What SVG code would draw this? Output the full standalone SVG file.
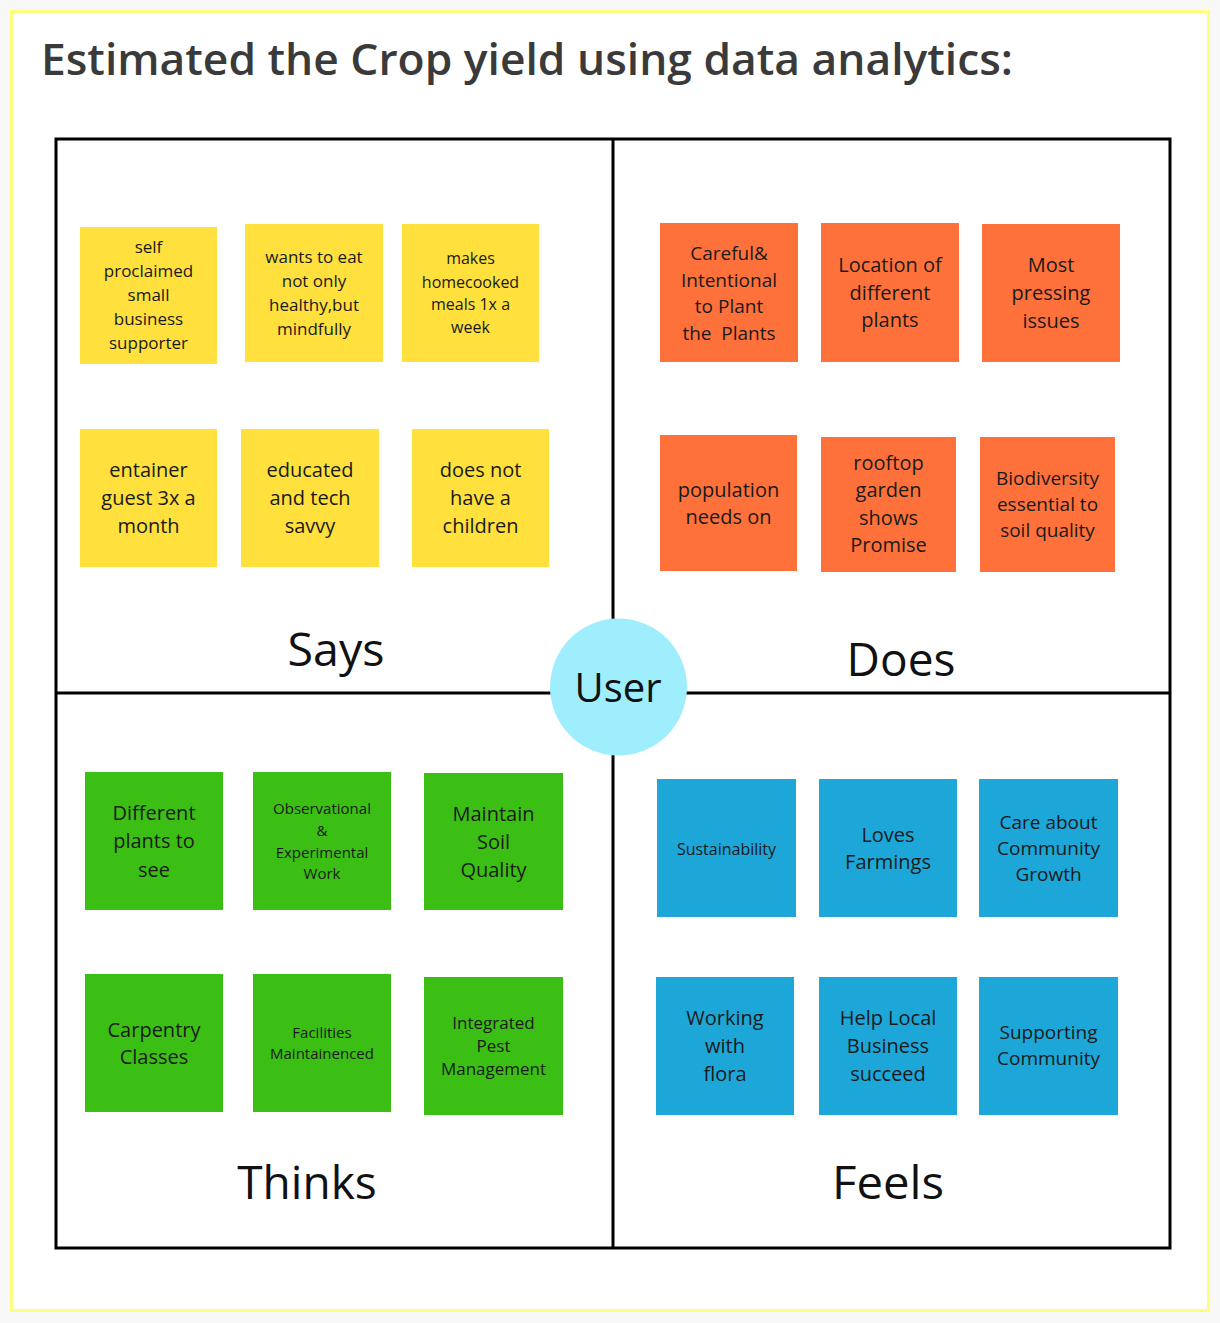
<svg xmlns="http://www.w3.org/2000/svg" width="1220" height="1323" viewBox="0 0 1220 1323">
<style>
.t{font-family:"Open Sans","Liberation Sans",sans-serif;fill:#1a1a1a;text-anchor:middle}
.y{fill:#ffe03d}
.o{fill:#ff713a}
.g{fill:#3bbf14}
.b{fill:#1ca7d8}
.lab{font-family:"Open Sans","Liberation Sans",sans-serif;font-size:46px;fill:#111;text-anchor:middle}
.s15{font-size:15px}.s16{font-size:16px}.s17{font-size:17px}.s19{font-size:19px}.s20{font-size:20px}
</style>
<rect x="0" y="0" width="1220" height="1323" fill="#f8f8f8"/>
<rect x="11.5" y="11.5" width="1197" height="1299" fill="#ffffff" stroke="#fdfd7e" stroke-width="3"/>
<text x="41" y="75" font-family="Open Sans, Liberation Sans, sans-serif" font-weight="600" font-size="44" fill="#3a3a3a" textLength="972" lengthAdjust="spacingAndGlyphs">Estimated the Crop yield using data analytics:</text>

<g id="connectors" stroke="#000" stroke-width="3" fill="none">
<rect x="56" y="139" width="1114" height="1109"/>
<line x1="613" y1="139" x2="613" y2="1248"/>
<line x1="56" y1="693" x2="1170" y2="693"/>
</g>

<g id="user">
<circle cx="618.5" cy="687" r="68.5" fill="#9feefd"/>
<text class="lab" x="618" y="702" style="font-size:40px">User</text>
</g>

<g id="label-says"><text class="lab" x="336" y="666" textLength="97" lengthAdjust="spacingAndGlyphs">Says</text></g>
<g id="label-does"><text class="lab" x="901" y="676">Does</text></g>
<g id="label-thinks"><text class="lab" x="307" y="1199">Thinks</text></g>
<g id="label-feels"><text class="lab" x="888" y="1199" textLength="112" lengthAdjust="spacingAndGlyphs">Feels</text></g>

<!-- Says -->
<g id="says1"><rect class="y" x="80" y="227" width="137" height="137"/>
<text class="t s17" x="148.5"><tspan x="148.5" y="253">self</tspan><tspan x="148.5" y="277">proclaimed</tspan><tspan x="148.5" y="301">small</tspan><tspan x="148.5" y="325">business</tspan><tspan x="148.5" y="349">supporter</tspan></text></g>
<g id="says2"><rect class="y" x="245" y="224" width="138" height="138"/>
<text class="t s17"><tspan x="314" y="263">wants to eat</tspan><tspan x="314" y="287">not only</tspan><tspan x="314" y="311">healthy,but</tspan><tspan x="314" y="335">mindfully</tspan></text></g>
<g id="says3"><rect class="y" x="402" y="224" width="137" height="138"/>
<text class="t s16"><tspan x="470.5" y="264">makes</tspan><tspan x="470.5" y="288">homecooked</tspan><tspan x="470.5" y="310">meals 1x a</tspan><tspan x="470.5" y="333">week</tspan></text></g>
<g id="says4"><rect class="y" x="80" y="429" width="137" height="138"/>
<text class="t s20"><tspan x="148.5" y="477">entainer</tspan><tspan x="148.5" y="505">guest 3x a</tspan><tspan x="148.5" y="533">month</tspan></text></g>
<g id="says5"><rect class="y" x="241" y="429" width="138" height="138"/>
<text class="t s20"><tspan x="310" y="477">educated</tspan><tspan x="310" y="505">and tech</tspan><tspan x="310" y="533">savvy</tspan></text></g>
<g id="says6"><rect class="y" x="412" y="429" width="137" height="138"/>
<text class="t s20"><tspan x="480.5" y="477">does not</tspan><tspan x="480.5" y="505">have a</tspan><tspan x="480.5" y="533">children</tspan></text></g>

<!-- Does -->
<g id="does1"><rect class="o" x="660" y="223" width="138" height="139"/>
<text class="t s19"><tspan x="729" y="260">Careful&amp;</tspan><tspan x="729" y="287">Intentional</tspan><tspan x="729" y="313">to Plant</tspan><tspan x="729" y="340" xml:space="preserve">the  Plants</tspan></text></g>
<g id="does2"><rect class="o" x="821" y="223" width="138" height="139"/>
<text class="t s20"><tspan x="890" y="272">Location of</tspan><tspan x="890" y="300">different</tspan><tspan x="890" y="327">plants</tspan></text></g>
<g id="does3"><rect class="o" x="982" y="224" width="138" height="138"/>
<text class="t s20"><tspan x="1051" y="272">Most</tspan><tspan x="1051" y="300">pressing</tspan><tspan x="1051" y="328">issues</tspan></text></g>
<g id="does4"><rect class="o" x="660" y="435" width="137" height="136"/>
<text class="t s20"><tspan x="728.5" y="497">population</tspan><tspan x="728.5" y="524">needs on</tspan></text></g>
<g id="does5"><rect class="o" x="821" y="437" width="135" height="135"/>
<text class="t s20"><tspan x="888.5" y="470">rooftop</tspan><tspan x="888.5" y="497">garden</tspan><tspan x="888.5" y="525">shows</tspan><tspan x="888.5" y="552">Promise</tspan></text></g>
<g id="does6"><rect class="o" x="980" y="437" width="135" height="135"/>
<text class="t s19"><tspan x="1047.5" y="485">Biodiversity</tspan><tspan x="1047.5" y="511">essential to</tspan><tspan x="1047.5" y="537">soil quality</tspan></text></g>

<!-- Thinks -->
<g id="thinks1"><rect class="g" x="85" y="772" width="138" height="138"/>
<text class="t s20"><tspan x="154" y="820">Different</tspan><tspan x="154" y="848">plants to</tspan><tspan x="154" y="877">see</tspan></text></g>
<g id="thinks2"><rect class="g" x="253" y="772" width="138" height="138"/>
<text class="t s15"><tspan x="322" y="814">Observational</tspan><tspan x="322" y="836">&amp;</tspan><tspan x="322" y="858">Experimental</tspan><tspan x="322" y="879">Work</tspan></text></g>
<g id="thinks3"><rect class="g" x="424" y="773" width="139" height="137"/>
<text class="t s20"><tspan x="493.5" y="821">Maintain</tspan><tspan x="493.5" y="849">Soil</tspan><tspan x="493.5" y="877">Quality</tspan></text></g>
<g id="thinks4"><rect class="g" x="85" y="974" width="138" height="138"/>
<text class="t s20"><tspan x="154" y="1037">Carpentry</tspan><tspan x="154" y="1064">Classes</tspan></text></g>
<g id="thinks5"><rect class="g" x="253" y="974" width="138" height="138"/>
<text class="t s15"><tspan x="322" y="1038">Facilities</tspan><tspan x="322" y="1059">Maintainenced</tspan></text></g>
<g id="thinks6"><rect class="g" x="424" y="977" width="139" height="138"/>
<text class="t s17"><tspan x="493.5" y="1029">Integrated</tspan><tspan x="493.5" y="1052">Pest</tspan><tspan x="493.5" y="1075">Management</tspan></text></g>

<!-- Feels -->
<g id="feels1"><rect class="b" x="657" y="779" width="139" height="138"/>
<text class="t s16"><tspan x="726.5" y="855">Sustainability</tspan></text></g>
<g id="feels2"><rect class="b" x="819" y="779" width="138" height="138"/>
<text class="t s20"><tspan x="888" y="842">Loves</tspan><tspan x="888" y="869">Farmings</tspan></text></g>
<g id="feels3"><rect class="b" x="979" y="779" width="139" height="138"/>
<text class="t s19"><tspan x="1048.5" y="829">Care about</tspan><tspan x="1048.5" y="855">Community</tspan><tspan x="1048.5" y="881">Growth</tspan></text></g>
<g id="feels4"><rect class="b" x="656" y="977" width="138" height="138"/>
<text class="t s20"><tspan x="725" y="1025">Working</tspan><tspan x="725" y="1053">with</tspan><tspan x="725" y="1081">flora</tspan></text></g>
<g id="feels5"><rect class="b" x="819" y="977" width="138" height="138"/>
<text class="t s20"><tspan x="888" y="1025">Help Local</tspan><tspan x="888" y="1053">Business</tspan><tspan x="888" y="1081">succeed</tspan></text></g>
<g id="feels6"><rect class="b" x="979" y="977" width="139" height="138"/>
<text class="t s19"><tspan x="1048.5" y="1039">Supporting</tspan><tspan x="1048.5" y="1065">Community</tspan></text></g>
</svg>
